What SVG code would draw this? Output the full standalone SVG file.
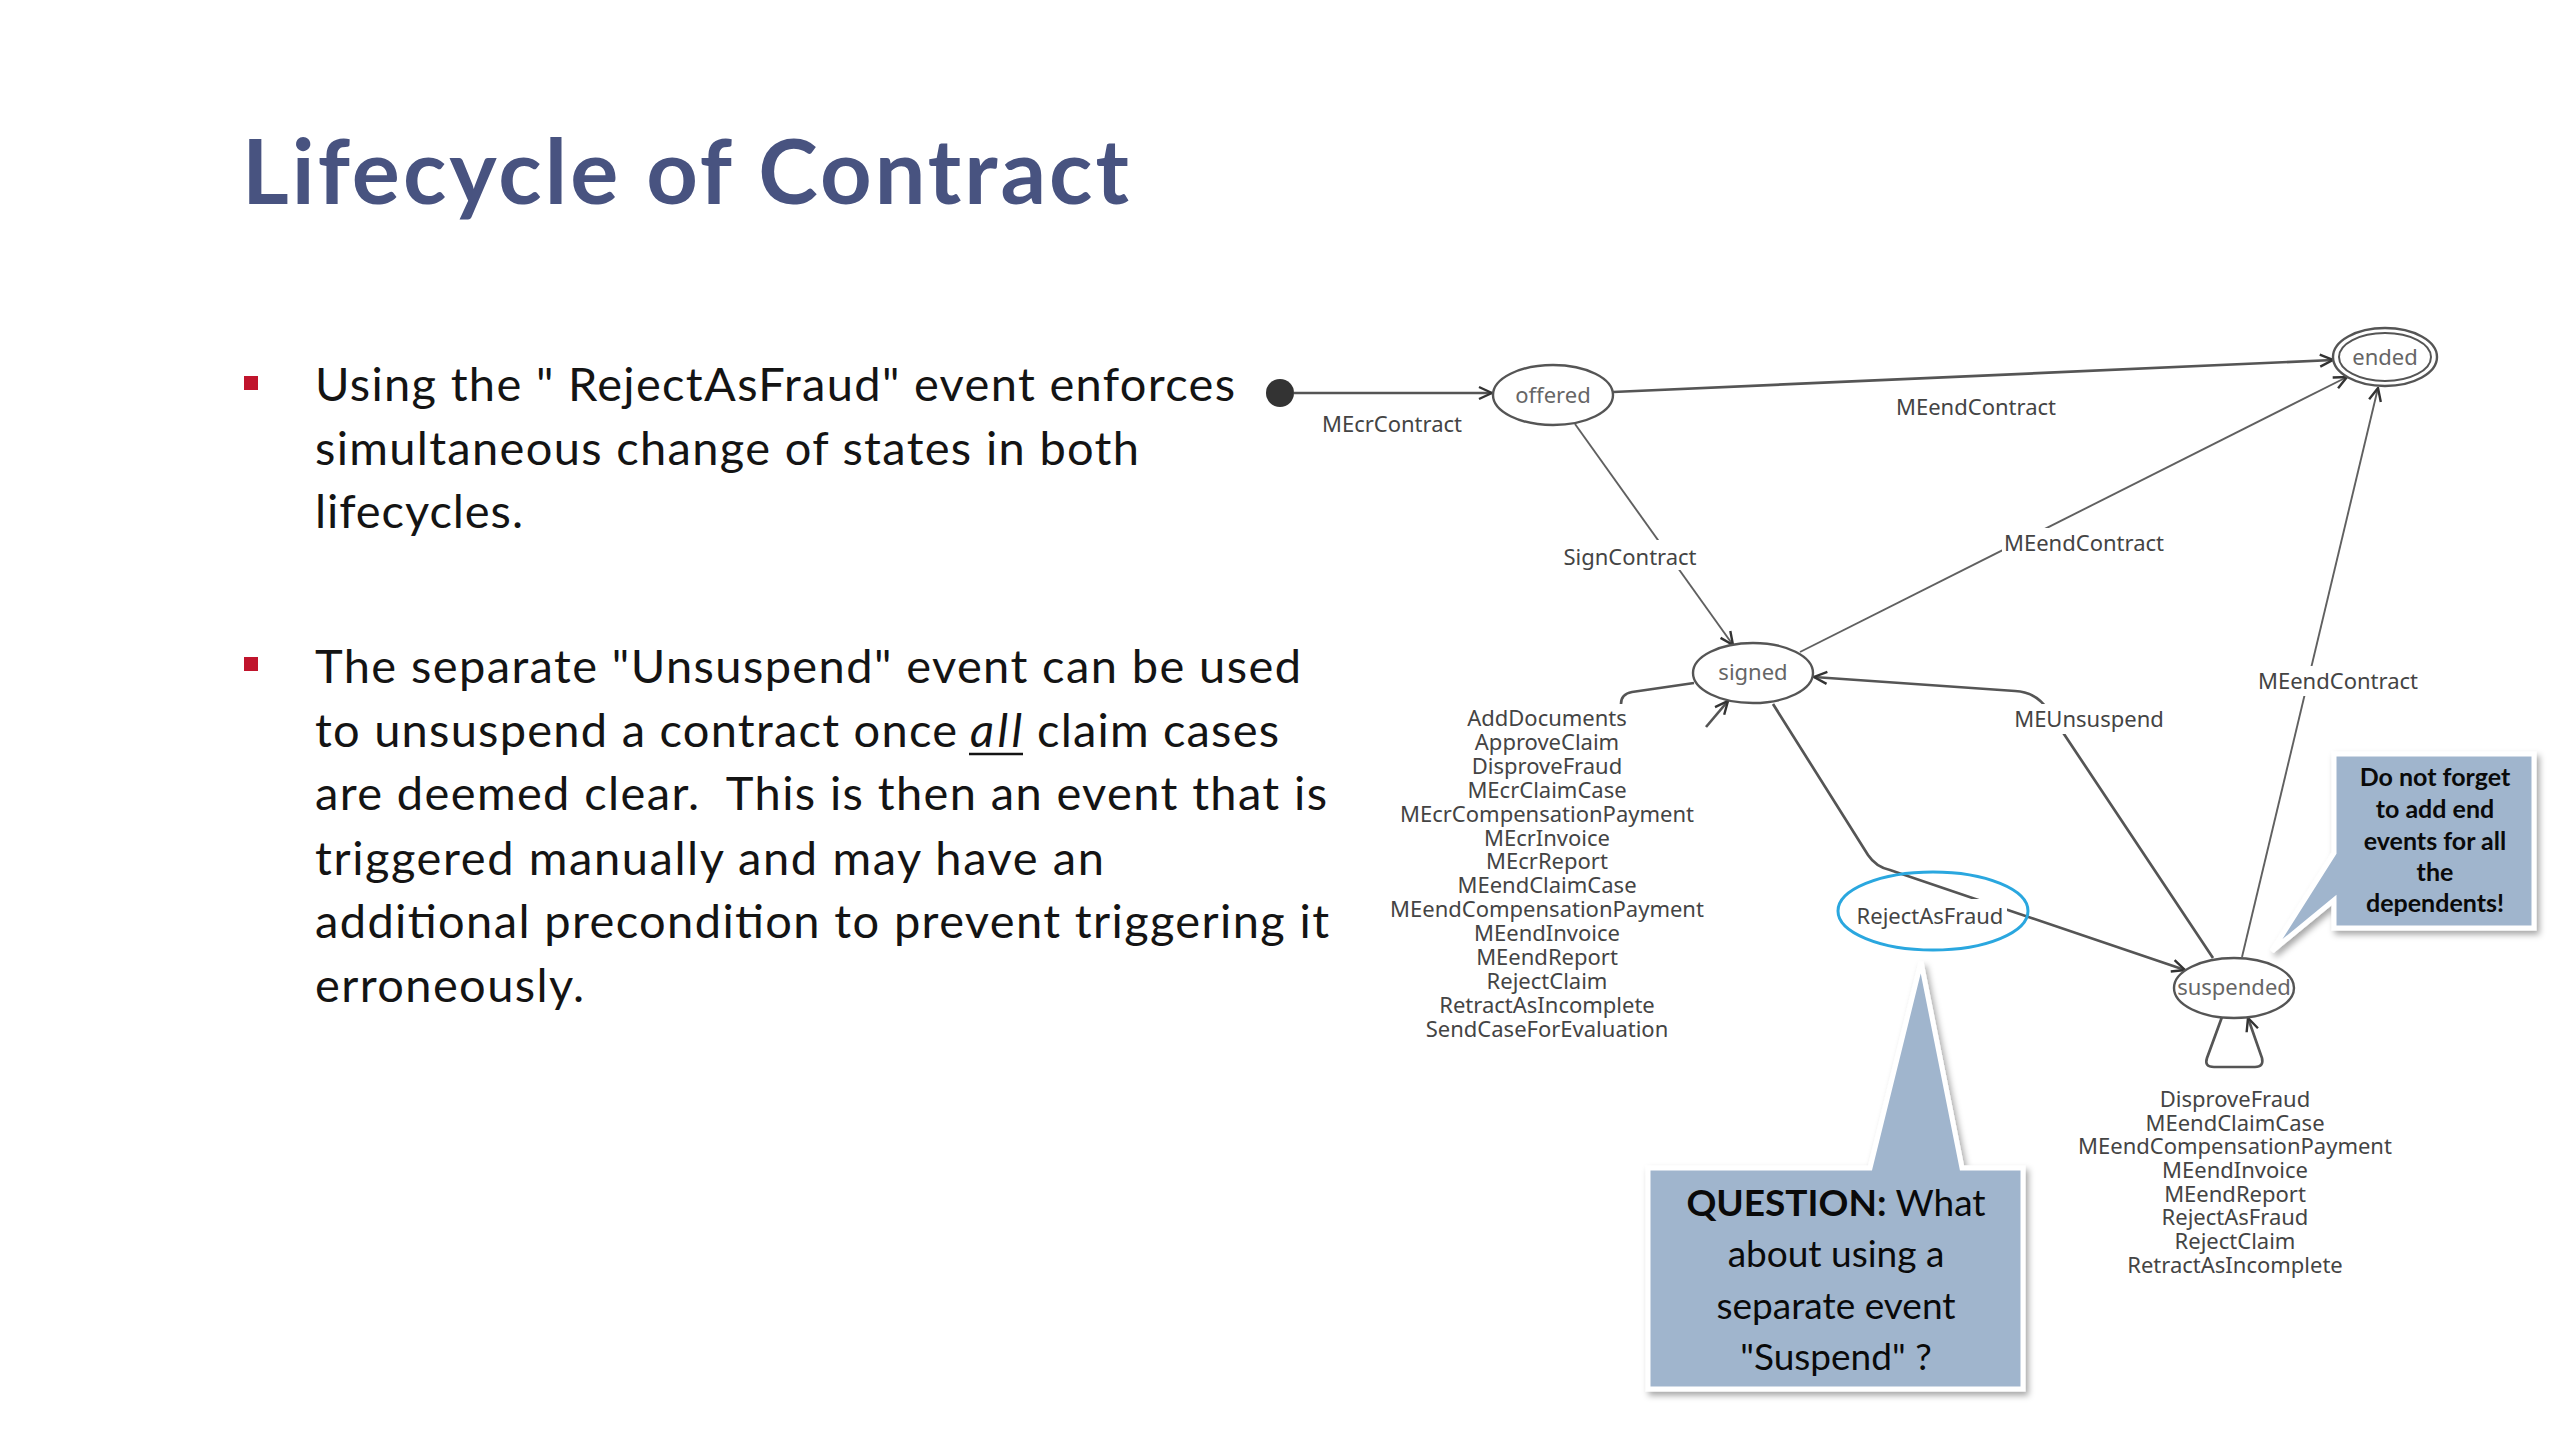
<svg xmlns="http://www.w3.org/2000/svg" width="2560" height="1440" viewBox="0 0 2560 1440">
<style>
.title{font-family:Lato,"Open Sans","Liberation Sans",sans-serif;font-weight:700;font-size:90px;fill:#485380}
.body{font-family:Lato,"Open Sans","Liberation Sans",sans-serif;font-size:47px;fill:#141414}
.bullet{fill:#C0142C}
.node{fill:#fff;stroke:#555;stroke-width:2.4}
.ntext{font-family:"Noto Sans","Open Sans",sans-serif;font-size:22px;fill:#666;text-anchor:middle}
.lbl{font-family:"Noto Sans","Open Sans",sans-serif;font-size:22px;fill:#444;text-anchor:middle}
.edge{fill:none;stroke:#606060;stroke-width:1.9}
.thick{stroke:#555;stroke-width:2.7}
.bg{fill:#fff}
.call{fill:#A0B5CD;stroke:#fff;stroke-width:5;filter:url(#sh)}
.ctext{font-family:Lato,"Open Sans","Liberation Sans",sans-serif;fill:#0a0a0a;text-anchor:middle}
</style>
<defs>
<marker id="arr" viewBox="0 0 16 16" refX="15" refY="8" markerWidth="16" markerHeight="16" markerUnits="userSpaceOnUse" orient="auto">
<path d="M2,2 L15,8 L2,14" fill="none" stroke="#333" stroke-width="2.4"/>
</marker>
<filter id="sh" x="-10%" y="-10%" width="125%" height="125%">
<feDropShadow dx="3" dy="4" stdDeviation="3" flood-color="#000" flood-opacity="0.35"/>
</filter>
</defs>
<rect width="2560" height="1440" fill="#fff"/>

<text class="title" x="242" y="204" textLength="887">Lifecycle of Contract</text>

<g id="bullets">
<rect class="bullet" x="244" y="376" width="14" height="14"/>
<text class="body" x="315" y="401" textLength="920">Using the " RejectAsFraud" event enforces</text>
<text class="body" x="315" y="465" textLength="824">simultaneous change of states in both</text>
<text class="body" x="315" y="528" textLength="208">lifecycles.</text>
<rect class="bullet" x="244" y="657" width="14" height="14"/>
<text class="body" x="315" y="683" textLength="986">The separate "Unsuspend" event can be used</text>
<text class="body" x="315" y="747" textLength="642">to unsuspend a contract once</text>
<text class="body" x="970" y="747" textLength="52" font-style="italic">all</text>
<line x1="969" y1="754" x2="1023" y2="754" stroke="#141414" stroke-width="2.5"/>
<text class="body" x="1037" y="747" textLength="242">claim cases</text>
<text class="body" x="315" y="810" textLength="1012" xml:space="preserve">are deemed clear.  This is then an event that is</text>
<text class="body" x="315" y="875" textLength="789">triggered manually and may have an</text>
<text class="body" x="315" y="938" textLength="1014">additional precondition to prevent triggering it</text>
<text class="body" x="315" y="1002" textLength="269">erroneously.</text>
</g>

<g id="connectors">
<path class="edge thick" d="M1294,393 L1492,393" marker-end="url(#arr)"/>
<path class="edge thick" d="M1613,392 L2333,360" marker-end="url(#arr)"/>
<path class="edge" d="M1575,424 L1733,645" marker-end="url(#arr)"/>
<path class="edge" d="M1800,652 L2347,377" marker-end="url(#arr)"/>
<path class="edge" d="M2242,957 L2378,388" marker-end="url(#arr)"/>
<path class="edge thick" d="M2213,958 L2048,710 Q2036,692 2015,691 L1814,677" marker-end="url(#arr)"/>
<path class="edge thick" d="M1773,704 L1868,855 Q1876,867 1890,870 L2185,970" marker-end="url(#arr)"/>
<path class="edge thick" d="M1694,683 L1632,692 Q1621,694 1621,704"/>
<path class="edge thick" d="M1706,727 L1728,701" marker-end="url(#arr)"/>
<path class="edge thick" d="M2222,1017 L2207,1058 Q2204,1067 2214,1067 L2255,1067 Q2264,1067 2262,1058 L2248,1018" marker-end="url(#arr)"/>

<text class="lbl" x="1392" y="432">MEcrContract</text>
<text class="lbl" x="1976" y="415">MEendContract</text>
<rect class="bg" x="1560" y="540" width="140" height="30"/>
<text class="lbl" x="1630" y="565">SignContract</text>
<rect class="bg" x="2002" y="528" width="164" height="30"/>
<text class="lbl" x="2084" y="551">MEendContract</text>
<rect class="bg" x="2256" y="666" width="164" height="30"/>
<text class="lbl" x="2338" y="689">MEendContract</text>
<rect class="bg" x="2013" y="704" width="150" height="30"/>
<text class="lbl" x="2089" y="727">MEUnsuspend</text>
<rect class="bg" x="1855" y="899" width="152" height="33"/>
<text class="lbl" x="1930" y="924">RejectAsFraud</text>

<g id="signed-loop-labels">
<text class="lbl" x="1547" y="726">AddDocuments</text>
<text class="lbl" x="1547" y="750">ApproveClaim</text>
<text class="lbl" x="1547" y="774">DisproveFraud</text>
<text class="lbl" x="1547" y="798">MEcrClaimCase</text>
<text class="lbl" x="1547" y="822">MEcrCompensationPayment</text>
<text class="lbl" x="1547" y="846">MEcrInvoice</text>
<text class="lbl" x="1547" y="869">MEcrReport</text>
<text class="lbl" x="1547" y="893">MEendClaimCase</text>
<text class="lbl" x="1547" y="917">MEendCompensationPayment</text>
<text class="lbl" x="1547" y="941">MEendInvoice</text>
<text class="lbl" x="1547" y="965">MEendReport</text>
<text class="lbl" x="1547" y="989">RejectClaim</text>
<text class="lbl" x="1547" y="1013">RetractAsIncomplete</text>
<text class="lbl" x="1547" y="1037">SendCaseForEvaluation</text>
</g>
<g id="suspended-loop-labels">
<text class="lbl" x="2235" y="1107">DisproveFraud</text>
<text class="lbl" x="2235" y="1131">MEendClaimCase</text>
<text class="lbl" x="2235" y="1154">MEendCompensationPayment</text>
<text class="lbl" x="2235" y="1178">MEendInvoice</text>
<text class="lbl" x="2235" y="1202">MEendReport</text>
<text class="lbl" x="2235" y="1225">RejectAsFraud</text>
<text class="lbl" x="2235" y="1249">RejectClaim</text>
<text class="lbl" x="2235" y="1273">RetractAsIncomplete</text>
</g>
</g>

<g id="node-initial"><circle cx="1280" cy="393" r="14" fill="#333"/></g>
<g id="node-offered"><ellipse class="node" cx="1553" cy="395" rx="60" ry="30"/><text class="ntext" x="1553" y="403">offered</text></g>
<g id="node-signed"><ellipse class="node" cx="1753" cy="673" rx="60" ry="30"/><text class="ntext" x="1753" y="680">signed</text></g>
<g id="node-suspended"><ellipse class="node" cx="2234" cy="988" rx="60" ry="30"/><text class="ntext" x="2234" y="995">suspended</text></g>
<g id="node-ended"><ellipse class="node" cx="2385" cy="357" rx="52" ry="29"/><ellipse fill="none" stroke="#555" stroke-width="2" cx="2385" cy="357" rx="46" ry="24"/><text class="ntext" x="2385" y="365">ended</text></g>

<g id="highlight"><ellipse cx="1933" cy="911" rx="95" ry="39" fill="none" stroke="#2AA7DF" stroke-width="3"/></g>

<g id="callout-dependents">
<path class="call" d="M2334,754 L2534,754 L2534,928 L2334,928 L2334,900 L2272,951 L2334,853 Z"/>
<text class="ctext" font-weight="700" font-size="25" x="2435" y="786">Do not forget</text>
<text class="ctext" font-weight="700" font-size="25" x="2435" y="818">to add end</text>
<text class="ctext" font-weight="700" font-size="25" x="2435" y="850">events for all</text>
<text class="ctext" font-weight="700" font-size="25" x="2435" y="881">the</text>
<text class="ctext" font-weight="700" font-size="25" x="2435" y="912">dependents!</text>
</g>

<g id="callout-question">
<path class="call" d="M1648,1168 L1870,1168 L1921,962 L1962,1168 L2023,1168 L2023,1389 L1648,1389 Z"/>
<text class="ctext" font-size="37" x="1836" y="1216"><tspan font-weight="700">QUESTION:</tspan> What</text>
<text class="ctext" font-size="37" x="1836" y="1267">about using a</text>
<text class="ctext" font-size="37" x="1836" y="1319">separate event</text>
<text class="ctext" font-size="37" x="1836" y="1370">"Suspend" ?</text>
</g>
</svg>
